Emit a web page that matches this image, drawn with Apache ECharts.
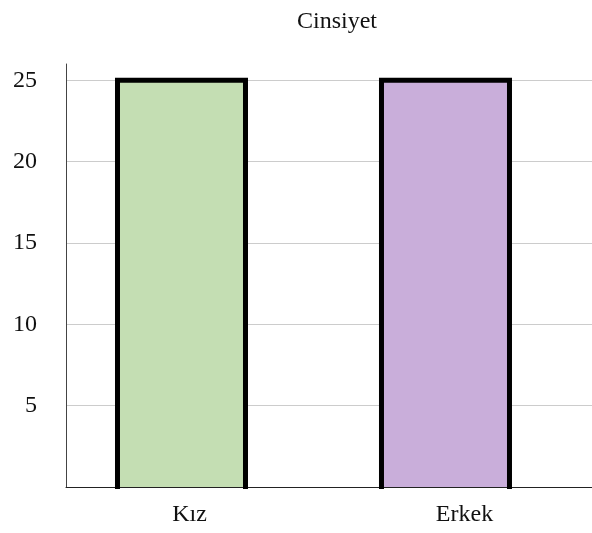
<!DOCTYPE html>
<html>
<head>
<meta charset="utf-8">
<script src="https://cdn.jsdelivr.net/npm/echarts@6/dist/echarts.min.js"></script>
<style>html,body{margin:0;padding:0;background:#fff}#c{width:592px;height:533px}</style>
</head>
<body>
<div id="c"></div>
<script>
const categories = ['Kız', 'Erkek'];
const values = [25, 25];
const barColors = ['#c4deb3', '#c9aeda'];
const yTicks = [0, 5, 10, 15, 20, 25];

const chart = echarts.init(document.getElementById('c'), null, {renderer: 'canvas'});
const font = '"Liberation Serif", "DejaVu Serif", serif';
const BAR_PX = 128;
const labelStyles = ['c0', 'c1'];
chart.setOption({
  animation: false,
  title: {
    text: 'Cinsiyet', left: 332, top: 5, textAlign: 'center',
    textStyle: {fontFamily: font, fontWeight: 'normal', fontSize: 24, color: '#111'}
  },
  grid: {left: 66, right: 0, top: 64, bottom: 46},
  xAxis: {
    type: 'value', min: 0.5625, max: 2.555,
    axisLine: {show: true, lineStyle: {color: '#222', width: 1}},
    axisTick: {show: false},
    splitLine: {show: false},
    axisLabel: {
      customValues: categories.map((c, i) => i + 1),
      formatter: v => {
        const i = Math.round(v) - 1;
        return categories[i] ? '{' + labelStyles[i] + '|' + categories[i] + '}' : '';
      },
      rich: {
        c0: {fontFamily: font, fontSize: 24, color: '#111', padding: [0, 0, 0, 16]},
        c1: {fontFamily: font, fontSize: 24, color: '#111', padding: [0, 0, 0, 38]}
      },
      fontFamily: font, fontSize: 24, color: '#111', margin: 16
    }
  },
  yAxis: {
    type: 'value', min: 0, max: 26, interval: 5,
    axisLine: {show: true, lineStyle: {color: '#444', width: 1}},
    axisTick: {show: false},
    splitLine: {show: true, lineStyle: {color: ['#cccccc','#cccccc','#cccccc','#cccccc','#cccccc','#cccccc','rgba(0,0,0,0)'], width: 1}},
    axisLabel: {
      showMaxLabel: false,
      formatter: v => (yTicks.indexOf(v) > 0 ? String(v) : ''),
      fontFamily: font, fontSize: 24, color: '#111', margin: 29
    }
  },
  series: [{
    type: 'bar',
    barWidth: BAR_PX,
    data: values.map((v, i) => ({
      value: [i + 1, v],
      itemStyle: {color: barColors[i]}
    }))
  }, {
    type: 'custom',
    clip: false,
    z: 5,
    data: values.map((v, i) => [i + 1, v]),
    renderItem: function (params, api) {
      const top = api.coord([api.value(0), api.value(1)]);
      const base = api.coord([api.value(0), 0]);
      const h = BAR_PX / 2;
      return {
        type: 'polyline',
        shape: {points: [[top[0] - h, base[1] + 2], [top[0] - h, top[1]], [top[0] + h, top[1]], [top[0] + h, base[1] + 2]]},
        style: {stroke: '#000', lineWidth: 5, fill: null, lineJoin: 'miter'}
      };
    }
  }]
});
</script>
</body>
</html>
